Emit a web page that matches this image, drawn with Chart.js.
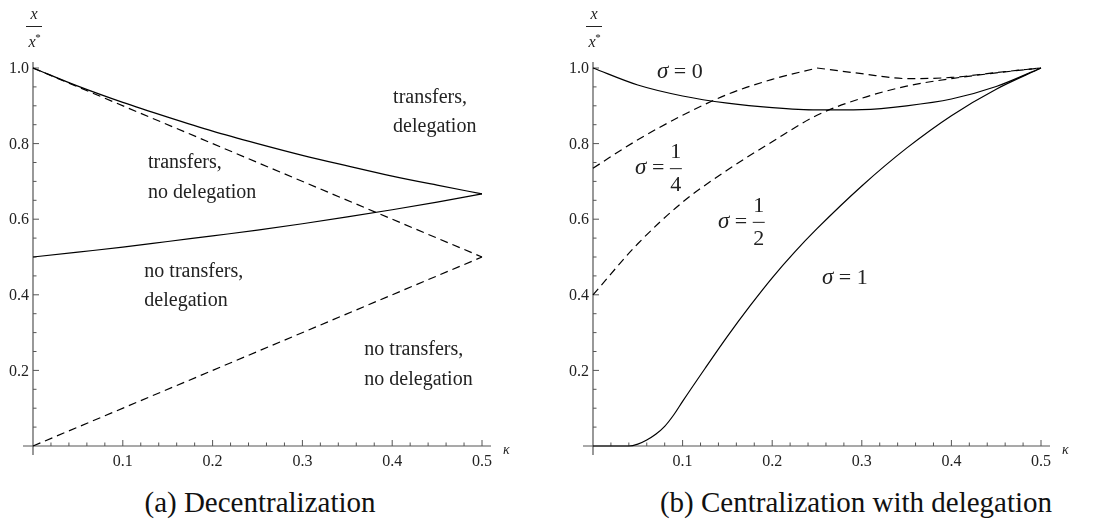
<!DOCTYPE html>
<html>
<head>
<meta charset="utf-8">
<script src="https://cdn.jsdelivr.net/npm/chart.js@4.4.1/dist/chart.umd.min.js"></script>
<style>
  body { margin: 0; background: #fff; width: 1102px; height: 525px; position: relative; overflow: hidden; }
  canvas { position: absolute; top: 0; }
  #left { left: 0; }
  #right { left: 550px; }
  .caption {
    position: absolute; top: 486px; white-space: nowrap; transform: translateX(-50%);
    font-family: "Liberation Serif", "Tinos", "Times New Roman", "DejaVu Serif", "Noto Serif", "Nimbus Roman", "FreeSerif", serif;
    font-size: 29px; color: #111;
  }
</style>
</head>
<body>
<canvas id="left" width="550" height="470"></canvas>
<canvas id="right" width="552" height="470"></canvas>
<div class="caption" style="left:260px">(a) Decentralization</div>
<div class="caption" style="left:856px">(b) Centralization with delegation</div>

<script>
"use strict";

// Panel (a): decentralization boundaries
const kappaA = [0, 0.05, 0.1, 0.15, 0.2, 0.25, 0.3, 0.35, 0.4, 0.45, 0.5];
const upperSolid = [1.0, 0.952, 0.909, 0.870, 0.833, 0.800, 0.769, 0.741, 0.714, 0.690, 0.667];
const lowerSolid = [0.5, 0.513, 0.526, 0.541, 0.556, 0.571, 0.588, 0.606, 0.625, 0.645, 0.667];
const kappaLine = [0, 0.5];
const upperDashed = [1.0, 0.5];
const lowerDashed = [0.0, 0.5];

// Panel (b): centralization with delegation
const kappaB = [0, 0.05, 0.1, 0.15, 0.2, 0.25, 0.3, 0.35, 0.4, 0.45, 0.5];
const sigma0 = [1.0, 0.955, 0.926, 0.907, 0.895, 0.889, 0.890, 0.900, 0.918, 0.951, 1.0];
const sigmaHalf = [0.40, 0.535, 0.645, 0.73, 0.805, 0.875, 0.92, 0.952, 0.972, 0.987, 1.0];
const kappaQuarterRise = [0, 0.05, 0.1, 0.15, 0.2, 0.25];
const sigmaQuarterRise = [0.735, 0.81, 0.875, 0.93, 0.97, 1.0];
const kappaQuarterFall = [0.25, 0.3, 0.35, 0.4, 0.45, 0.5];
const sigmaQuarterFall = [1.0, 0.985, 0.972, 0.975, 0.988, 1.0];
const kappaOne = [0, 0.02, 0.04, 0.05, 0.06, 0.07, 0.08, 0.09, 0.1, 0.125, 0.15, 0.175, 0.2, 0.225, 0.25, 0.3, 0.35, 0.4, 0.45, 0.5];
const sigma1 = [0, 0, 0, 0.005, 0.016, 0.031, 0.052, 0.082, 0.118, 0.205, 0.29, 0.37, 0.445, 0.513, 0.575, 0.688, 0.788, 0.874, 0.944, 1.0];

// Tick labels
const xTickLabels = ["0.1", "0.2", "0.3", "0.4", "0.5"];
const yTickLabels = ["0.2", "0.4", "0.6", "0.8", "1.0"];

const SERIF = "'Liberation Serif', Tinos, 'Times New Roman', 'DejaVu Serif', 'Noto Serif', 'Nimbus Roman', FreeSerif, serif";
const AXIS_COLOR = "#555";
const TEXT_COLOR = "#222";

function toPoints(xs, ys) {
  return xs.map((x, i) => ({ x: x, y: ys[i] }));
}

function curve(label, xs, ys, dashed) {
  return {
    label: label,
    data: toPoints(xs, ys),
    borderColor: "#000",
    borderWidth: 1.2,
    borderDash: dashed ? [8, 5] : [],
    pointRadius: 0,
    cubicInterpolationMode: "monotone",
    fill: false,
    clip: false,
  };
}

// Mathematica style axes through the origin, ticks pointing inwards
const mathAxes = {
  id: "mathAxes",
  beforeDatasetsDraw(chart) {
    const { ctx, scales: { x, y } } = chart;
    const x0 = x.getPixelForValue(0);
    const y0 = y.getPixelForValue(0);

    ctx.save();
    ctx.strokeStyle = AXIS_COLOR;
    ctx.lineWidth = 1.2;
    ctx.beginPath();
    ctx.moveTo(x0 - 10, y0);
    ctx.lineTo(x.getPixelForValue(0.5) + 9, y0);
    ctx.moveTo(x0, y0 + 9);
    ctx.lineTo(x0, y.getPixelForValue(1) - 6);
    ctx.stroke();

    ctx.lineWidth = 1;
    ctx.beginPath();
    for (let i = 1; i <= 25; i++) {
      const px = x.getPixelForValue(i * 0.02);
      const len = i % 5 === 0 ? 6 : 3.5;
      ctx.moveTo(px, y0);
      ctx.lineTo(px, y0 - len);
    }
    for (let i = 1; i <= 20; i++) {
      const py = y.getPixelForValue(i * 0.05);
      const len = i % 4 === 0 ? 6 : 3.5;
      ctx.moveTo(x0, py);
      ctx.lineTo(x0 + len, py);
    }
    ctx.stroke();

    ctx.fillStyle = TEXT_COLOR;
    ctx.font = "16px " + SERIF;
    ctx.textAlign = "center";
    ctx.textBaseline = "middle";
    xTickLabels.forEach((t) => {
      ctx.fillText(t, x.getPixelForValue(parseFloat(t)), y0 + 16);
    });
    ctx.textAlign = "right";
    yTickLabels.forEach((t) => {
      ctx.fillText(t, x0 - 4, y.getPixelForValue(parseFloat(t)) + 1);
    });

    // kappa axis label
    ctx.textAlign = "left";
    ctx.font = "italic 14px " + SERIF;
    ctx.fillText("\u03ba", x.getPixelForValue(0.5) + 21, y0 + 4);

    // x / x* label
    ctx.textAlign = "center";
    ctx.font = "italic 16px " + SERIF;
    ctx.fillText("x", x0 + 1, 15);
    ctx.fillText("x", x0 - 1, 43);
    ctx.font = "11px " + SERIF;
    ctx.fillText("*", x0 + 5, 38);
    ctx.strokeStyle = TEXT_COLOR;
    ctx.beginPath();
    ctx.moveTo(x0 - 7, 26.5);
    ctx.lineTo(x0 + 9, 26.5);
    ctx.stroke();
    ctx.restore();
  },
  afterDatasetsDraw(chart, args, opts) {
    const { ctx, scales: { x, y } } = chart;
    ctx.save();
    ctx.fillStyle = TEXT_COLOR;
    ctx.textBaseline = "middle";
    (opts.notes || []).forEach((n) => {
      ctx.font = "20px " + SERIF;
      ctx.textAlign = "left";
      ctx.fillText(n.text, x.getPixelForValue(n.at[0]), y.getPixelForValue(n.at[1]));
    });
    (opts.math || []).forEach((m) => {
      let px = x.getPixelForValue(m.at[0]);
      const py = y.getPixelForValue(m.at[1]);
      ctx.textAlign = "left";
      ctx.font = "italic 23px " + SERIF;
      ctx.fillText("\u03c3", px, py);
      px += ctx.measureText("\u03c3").width;
      ctx.font = "22px " + SERIF;
      ctx.fillText(" = ", px, py);
      px += ctx.measureText(" = ").width;
      if (m.frac) {
        const w = 12;
        const cx = px + w / 2;
        ctx.textAlign = "center";
        ctx.fillText(m.frac[0], cx, py - 16);
        ctx.fillText(m.frac[1], cx, py + 17);
        ctx.strokeStyle = TEXT_COLOR;
        ctx.lineWidth = 1;
        ctx.beginPath();
        ctx.moveTo(px, py + 0.5);
        ctx.lineTo(px + w, py + 0.5);
        ctx.stroke();
      } else {
        ctx.fillText(m.value, px, py);
      }
    });
    ctx.restore();
  },
};

function makeChart(id, datasets, padding, notes, math) {
  return new Chart(document.getElementById(id), {
    type: "line",
    data: { datasets: datasets },
    options: {
      responsive: false,
      animation: false,
      layout: { padding: padding },
      scales: {
        x: { type: "linear", min: 0, max: 0.5, display: false },
        y: { type: "linear", min: 0, max: 1, display: false },
      },
      plugins: {
        legend: { display: false },
        tooltip: { enabled: false },
        mathAxes: { notes: notes, math: math },
      },
    },
    plugins: [mathAxes],
  });
}

makeChart(
  "left",
  [
    curve("upper boundary", kappaA, upperSolid, false),
    curve("lower boundary", kappaA, lowerSolid, false),
    curve("1 - kappa", kappaLine, upperDashed, true),
    curve("kappa", kappaLine, lowerDashed, true),
  ],
  { left: 33, right: 68, top: 68, bottom: 24 },
  [
    { text: "transfers,", at: [0.401, 0.921] },
    { text: "delegation", at: [0.401, 0.844] },
    { text: "transfers,", at: [0.128, 0.749] },
    { text: "no delegation", at: [0.128, 0.669] },
    { text: "no transfers,", at: [0.124, 0.460] },
    { text: "delegation", at: [0.124, 0.384] },
    { text: "no transfers,", at: [0.369, 0.254] },
    { text: "no delegation", at: [0.369, 0.175] },
  ],
  []
);

makeChart(
  "right",
  [
    curve("sigma = 0", kappaB, sigma0, false),
    curve("sigma = 1/4", kappaQuarterRise, sigmaQuarterRise, true),
    curve("sigma = 1/4 ", kappaQuarterFall, sigmaQuarterFall, true),
    curve("sigma = 1/2", kappaB, sigmaHalf, true),
    curve("sigma = 1", kappaOne, sigma1, false),
  ],
  { left: 43, right: 61, top: 68, bottom: 24 },
  [],
  [
    { at: [0.0714, 0.989], value: "0" },
    { at: [0.047, 0.735], frac: ["1", "4"] },
    { at: [0.1395, 0.593], frac: ["1", "2"] },
    { at: [0.2556, 0.444], value: "1" },
  ]
);
</script>
</body>
</html>
